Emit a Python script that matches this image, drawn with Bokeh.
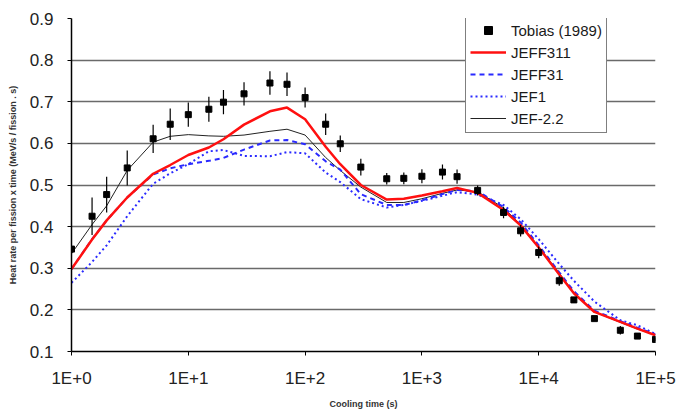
from bokeh.plotting import figure
from bokeh.models import FixedTicker, Legend, LegendItem
from bokeh.embed import file_html
from bokeh.resources import INLINE

# Cooling times (s)
t = [1, 1.5, 2, 3, 5, 7, 10, 15, 20, 30, 50, 70, 100, 150, 200, 300, 500, 700,
     1000, 1500, 2000, 3000, 5000, 7000, 10000, 15000, 20000, 30000, 50000, 70000, 100000]

# Tobias (1989) measurements and uncertainties
tobias = [0.346, 0.425, 0.477, 0.541, 0.611, 0.646, 0.669, 0.682, 0.699, 0.719, 0.745, 0.742,
          0.710, 0.646, 0.599, 0.543, 0.515, 0.516, 0.521, 0.531, 0.520, 0.487, 0.434, 0.390,
          0.338, 0.270, 0.224, 0.179, 0.151, 0.137, 0.129]
tobias_err = [0.0, 0.045, 0.043, 0.042, 0.034, 0.038, 0.029, 0.030, 0.029, 0.028, 0.028, 0.028,
              0.024, 0.026, 0.02, 0.02, 0.014, 0.014, 0.017, 0.018, 0.017, 0.012, 0.014, 0.014,
              0.014, 0.012, 0.005, 0.005, 0.01, 0.005, 0.005]

jeff311 = [0.298, 0.369, 0.415, 0.470, 0.527, 0.548, 0.572, 0.590, 0.610, 0.645, 0.677, 0.686,
           0.658, 0.592, 0.550, 0.500, 0.465, 0.467, 0.475, 0.485, 0.493, 0.481, 0.440, 0.403,
           0.350, 0.285, 0.240, 0.195, 0.171, 0.155, 0.139]
jeff31 = [0.298, 0.370, 0.415, 0.470, 0.525, 0.540, 0.550, 0.558, 0.565, 0.585, 0.607, 0.608,
          0.598, 0.557, 0.537, 0.478, 0.452, 0.452, 0.463, 0.478, 0.488, 0.485, 0.447, 0.410,
          0.355, 0.290, 0.245, 0.198, 0.173, 0.157, 0.141]
jef1 = [0.265, 0.315, 0.355, 0.425, 0.503, 0.528, 0.550, 0.581, 0.584, 0.570, 0.569, 0.579,
        0.576, 0.530, 0.507, 0.466, 0.446, 0.452, 0.462, 0.474, 0.483, 0.477, 0.452, 0.418,
        0.370, 0.310, 0.270, 0.220, 0.175, 0.163, 0.142]
jef22 = [0.335, 0.405, 0.450, 0.535, 0.603, 0.617, 0.621, 0.618, 0.617, 0.620, 0.629, 0.634,
         0.620, 0.566, 0.535, 0.495, 0.458, 0.458, 0.467, 0.480, 0.488, 0.484, 0.445, 0.405,
         0.352, 0.288, 0.242, 0.195, 0.170, 0.154, 0.140]

x_ticks = [1, 10, 100, 1000, 10000, 100000]
x_tick_labels = ["1E+0", "1E+1", "1E+2", "1E+3", "1E+4", "1E+5"]
y_ticks = [0.1, 0.2, 0.3, 0.4, 0.5, 0.6, 0.7, 0.8, 0.9]

FONT = "Liberation Sans"

p = figure(width=676, height=411, x_axis_type="log", x_range=(1, 1e5), y_range=(0.1, 0.9),
           output_backend="svg", toolbar_location=None,
           min_border_left=71, min_border_right=21, min_border_top=18, min_border_bottom=58)
p.outline_line_color = None
p.background_fill_color = "white"
p.border_fill_color = "white"

p.xgrid.visible = False
p.ygrid.ticker = FixedTicker(ticks=y_ticks)
p.ygrid.grid_line_color = "#6a6a6a"
p.ygrid.grid_line_width = 1.5

p.xaxis.ticker = FixedTicker(ticks=x_ticks, minor_ticks=[])
p.xaxis.major_label_overrides = {float(v): lab for v, lab in zip(x_ticks, x_tick_labels)}
p.yaxis.ticker = FixedTicker(ticks=y_ticks, minor_ticks=[])

for ax in (p.xaxis, p.yaxis):
    ax.axis_line_color = "black"
    ax.axis_line_width = 1.5
    ax.major_tick_line_color = "black"
    ax.major_tick_in = 0
    ax.major_tick_out = 4
    ax.minor_tick_line_color = None
    ax.major_label_text_font = FONT
    ax.major_label_text_font_size = "17px"
    ax.major_label_text_color = "#222222"
    ax.axis_label_text_font = FONT
    ax.axis_label_text_font_style = "bold"
    ax.axis_label_text_font_size = "9px"
    ax.axis_label_text_color = "#333333"

p.xaxis.major_label_standoff = 13
p.yaxis.major_label_standoff = 14
p.xaxis.axis_label = "Cooling time (s)"
p.xaxis.axis_label_standoff = 8
p.yaxis.axis_label = "Heat rate per fission x time (MeV/s / fission . s)"
p.yaxis.axis_label_standoff = 9

r_jef22 = p.line(t, jef22, line_color="#222222", line_width=1)
r_jef1 = p.line(t, jef1, line_color="#2a2aff", line_width=2, line_dash="2 3")
r_jeff31 = p.line(t, jeff31, line_color="#2a2aff", line_width=2, line_dash="5 4")
r_jeff311 = p.line(t, jeff311, line_color="#ff1010", line_width=2.5)

lo = [v - e for v, e in zip(tobias, tobias_err)]
hi = [v + e for v, e in zip(tobias, tobias_err)]
p.segment(x0=t, y0=lo, x1=t, y1=hi, line_color="black", line_width=1.2)
r_tob = p.scatter(t, tobias, marker="square", size=6, fill_color="black", line_color="black")

legend = Legend(items=[
    LegendItem(label="Tobias (1989)", renderers=[r_tob]),
    LegendItem(label="JEFF311", renderers=[r_jeff311]),
    LegendItem(label="JEFF31", renderers=[r_jeff31]),
    LegendItem(label="JEF1", renderers=[r_jef1]),
    LegendItem(label="JEF-2.2", renderers=[r_jef22]),
], location=(394, 218))
legend.border_line_color = "black"
legend.border_line_width = 1
legend.background_fill_color = "white"
legend.background_fill_alpha = 1
legend.padding = 4
legend.spacing = 2
legend.margin = 0
legend.glyph_width = 36
legend.glyph_height = 20
legend.label_height = 20
legend.label_standoff = 5
legend.label_text_font = FONT
legend.label_text_font_size = "15px"
legend.label_text_color = "#1a1a1a"
p.add_layout(legend)

open("out.html", "w").write(file_html(p, INLINE))
